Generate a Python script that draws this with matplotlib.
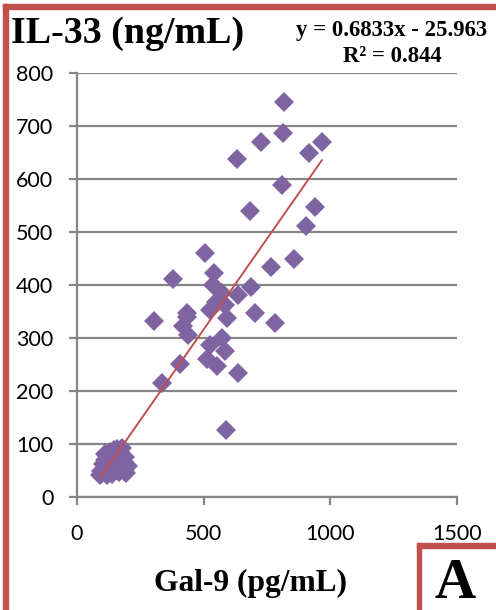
import numpy as np
import matplotlib
matplotlib.use("Agg")
import matplotlib.pyplot as plt
from matplotlib.patches import Rectangle

# ---------------- data ----------------
gal9 = [817, 815, 725, 967, 916, 634, 811, 942, 683, 903, 505, 858, 766, 543, 378,
        536, 689, 636, 571, 551, 584, 525, 593, 703, 782, 304, 433, 433, 420, 439,
        571, 525, 584, 512, 554, 409, 638, 336, 588,
        # low cluster
        95, 100, 105, 110, 115, 118, 120, 125, 128, 130, 135, 138, 140, 145, 148,
        150, 155, 158, 160, 162, 165, 170, 172, 175, 178, 180, 185, 188, 190, 195,
        92, 112, 200]
il33 = [745, 687, 670, 670, 648, 637, 589, 547, 540, 511, 460, 449, 434, 423, 411,
        399, 396, 380, 384, 368, 362, 352, 338, 347, 329, 332, 347, 340, 322, 306,
        299, 286, 275, 261, 247, 250, 233, 215, 127,
        50, 45, 62, 70, 55, 42, 78, 65, 48, 85, 72, 58, 44, 88, 68,
        80, 52, 90, 75, 62, 47, 86, 70, 58, 92, 80, 66, 50, 75, 46,
        42, 82, 58]

slope = 0.6833
intercept = -25.963
x_ticks = [0, 500, 1000, 1500]
y_ticks = [0, 100, 200, 300, 400, 500, 600, 700, 800]

purple = "#8064A2"
red = "#C0504D"
grey = "#868686"

plt.rcParams["font.family"] = "Lato"
plt.rcParams["xtick.major.pad"] = 13
plt.rcParams["ytick.major.pad"] = 11

fig = plt.figure(figsize=(4.96, 6.10), dpi=100)
ax = fig.add_axes([0.155, 0.185, 0.766, 0.696])

ax.plot(gal9, il33, "D", color=purple, markersize=9.8, markeredgewidth=0, zorder=3)

# linear trendline over the data range
xs = np.array([min(gal9), max(gal9)])
ax.plot(xs, slope * xs + intercept, color=red, lw=1.4, zorder=4)

ax.set_xlim(0, 1500)
ax.set_ylim(0, 800)
ax.set_xticks(x_ticks)
ax.set_xticklabels([str(t) for t in x_ticks], fontsize=15.5, family="Lato")
ax.set_yticks(y_ticks)
ax.set_yticklabels([str(t) for t in y_ticks], fontsize=15.5, family="Lato")
ax.yaxis.grid(True, color=grey, lw=1.6)
ax.set_axisbelow(True)
for s in ["top", "right"]:
    ax.spines[s].set_visible(False)
for s in ["left", "bottom"]:
    ax.spines[s].set_color(grey)
    ax.spines[s].set_linewidth(1.6)
ax.tick_params(colors=grey, length=6, width=1.6, labelcolor="black")

serif = "Liberation Serif"
fig.text(0.022, 0.945, "IL-33 (ng/mL)", fontsize=27.4, fontweight="bold",
         family=serif, va="center", ha="left")
fig.text(0.79, 0.950, "y = 0.6833x - 25.963", fontsize=16.4, fontweight="bold",
         family=serif, va="center", ha="center")
fig.text(0.79, 0.908, "R² = 0.844", fontsize=16.4, fontweight="bold",
         family=serif, va="center", ha="center")
fig.text(0.505, 0.044, "Gal-9 (pg/mL)", fontsize=22.7, fontweight="bold",
         family=serif, va="center", ha="center")
fig.text(0.917, 12 / 610, "A", fontsize=41, fontweight="bold",
         family=serif, va="baseline", ha="center")

# red frame pieces
fig.patches.append(Rectangle((3 / 496, 0), 5 / 496, 1 - 4 / 610, transform=fig.transFigure,
                             color=red, zorder=10))
fig.patches.append(Rectangle((3 / 496, 1 - 9 / 610), 1, 5 / 610, transform=fig.transFigure,
                             color=red, zorder=10))
fig.patches.append(Rectangle((417 / 496, 0), 4 / 496, 67 / 610, transform=fig.transFigure,
                             color=red, zorder=10))
fig.patches.append(Rectangle((417 / 496, 62 / 610), 1, 5 / 610, transform=fig.transFigure,
                             color=red, zorder=10))

fig.savefig("out.png", dpi=100)
